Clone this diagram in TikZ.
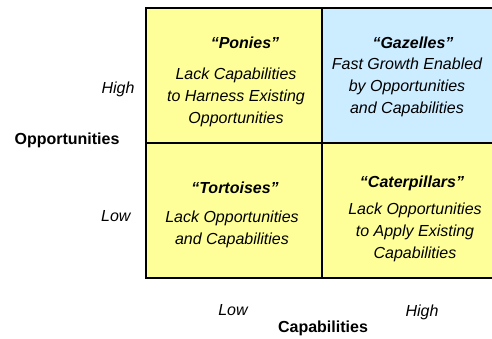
\documentclass[tikz,border=0pt]{standalone}
\usepackage{fontspec}
\setmainfont{Liberation Sans}
\usetikzlibrary{positioning}
\definecolor{cellyellow}{RGB}{255,255,153}
\definecolor{cellblue}{RGB}{204,236,255}
\tikzset{
  font=\fontsize{16}{22}\selectfont,
  % quadrant cell
  cell/.style={draw=black, line width=1.6pt, shape=rectangle, inner sep=0pt,
    minimum width=176pt, minimum height=135pt},
  % quadrant name
  title/.style={font=\fontsize{16}{22}\selectfont\bfseries\itshape},
  % quadrant text
  body/.style={align=center, font=\fontsize{16}{22}\selectfont\itshape},
  % axis names and levels
  axis/.style={font=\fontsize{16}{22}\selectfont\bfseries},
  level/.style={font=\fontsize{16}{22}\selectfont\itshape},
}

\begin{document}
\begin{tikzpicture}[x=1pt, y=-1pt]
  \clip (0,0) rectangle (492,338);
  \fill[white] (0,0) rectangle (492,338);

  % quadrants
  \node[cell, fill=cellyellow] (ponies) at (234,75.5) {};
  \node[cell, fill=cellblue, minimum width=180pt] (gazelles) at (412,75.5) {};
  \node[cell, fill=cellyellow] (tortoises) at (234,210.5) {};
  \node[cell, fill=cellyellow, minimum width=180pt] (caterpillars) at (412,210.5) {};

  \node[title] (tponies) at (245,43) {“Ponies”};
  \node[body] at (236,97) {Lack Capabilities\\to Harness Existing\\Opportunities};
  \node[title] (tgazelles) at (413,43) {“Gazelles”};
  \node[body] at (407,87) {Fast Growth Enabled\\by Opportunities\\and Capabilities};
  \node[title] (ttortoises) at (235,188) {“Tortoises”};
  \node[body] at (232,229) {Lack Opportunities\\and Capabilities};
  \node[title] (tcaterpillars) at (412,183) {“Caterpillars”};
  \node[body] at (415,232) {Lack Opportunities\\to Apply Existing\\Capabilities};

  % axes
  \node[level, anchor=east] (ohigh) at (138,89) {High};
  \node[axis] (opp) at (67,140) {Opportunities};
  \node[level, anchor=east] (olow) at (134,216) {Low};
  \node[level] (clow) at (233,310) {Low};
  \node[level] (chigh) at (422,312) {High};
  \node[axis] (cap) at (323,328) {Capabilities};
\end{tikzpicture}
\end{document}
